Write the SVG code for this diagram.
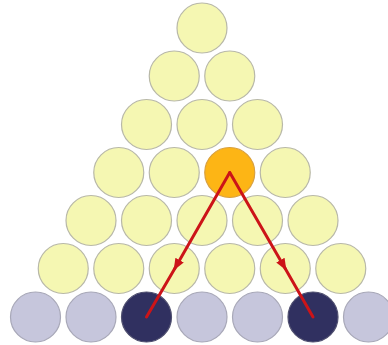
<svg xmlns="http://www.w3.org/2000/svg" width="388" height="345" viewBox="0 0 388 345">
<style>
circle{stroke:#b8b8a8;stroke-width:1.2}
.y{fill:#f5f7b2}
.o{fill:#fdb515;stroke:#d8a040}
.d{fill:#303060;stroke:#505070}
.l{fill:#c6c6dc;stroke:#a8a8b8}
.c{fill:none;stroke:#cc1418;stroke-width:3;stroke-linecap:round;stroke-linejoin:round}
</style>
<defs>
<marker id="ah" viewBox="0 0 10 10" refX="8" refY="5" markerWidth="4" markerHeight="4" orient="auto" markerUnits="strokeWidth">
<path d="M0,1 L10,5 L0,9 z" fill="#cc1418"/>
</marker>
</defs>
<rect width="388" height="345" fill="#ffffff"/>
<g id="row0"><circle class="y" cx="202" cy="28" r="25"/></g>
<g id="row1"><circle class="y" cx="174.25" cy="76" r="25"/><circle class="y" cx="229.75" cy="76" r="25"/></g>
<g id="row2"><circle class="y" cx="146.5" cy="124.5" r="25"/><circle class="y" cx="202" cy="124.5" r="25"/><circle class="y" cx="257.5" cy="124.5" r="25"/></g>
<g id="row3"><circle class="y" cx="118.75" cy="172.5" r="25"/><circle class="y" cx="174.25" cy="172.5" r="25"/><circle id="orange" class="o" cx="229.75" cy="172.5" r="25"/><circle class="y" cx="285.25" cy="172.5" r="25"/></g>
<g id="row4"><circle class="y" cx="91" cy="220.5" r="25"/><circle class="y" cx="146.5" cy="220.5" r="25"/><circle class="y" cx="202" cy="220.5" r="25"/><circle class="y" cx="257.5" cy="220.5" r="25"/><circle class="y" cx="313" cy="220.5" r="25"/></g>
<g id="row5"><circle class="y" cx="63.25" cy="268.5" r="25"/><circle class="y" cx="118.75" cy="268.5" r="25"/><circle class="y" cx="174.25" cy="268.5" r="25"/><circle class="y" cx="229.75" cy="268.5" r="25"/><circle class="y" cx="285.25" cy="268.5" r="25"/><circle class="y" cx="340.75" cy="268.5" r="25"/></g>
<g id="row6"><circle class="l" cx="35.5" cy="317" r="25"/><circle class="l" cx="91" cy="317" r="25"/><circle class="d" cx="146.5" cy="317" r="25"/><circle class="l" cx="202" cy="317" r="25"/><circle class="l" cx="257.5" cy="317" r="25"/><circle class="d" cx="313" cy="317" r="25"/><circle class="l" cx="368.5" cy="317" r="25"/></g>
<g id="connectors">
<path class="c" d="M229.75,172.5 L174.8,268.5" marker-end="url(#ah)"/>
<path class="c" d="M174.8,268.5 L146.5,317"/>
<path class="c" d="M229.75,172.5 L285.2,268.5" marker-end="url(#ah)"/>
<path class="c" d="M285.2,268.5 L313,317"/>
</g>
</svg>
